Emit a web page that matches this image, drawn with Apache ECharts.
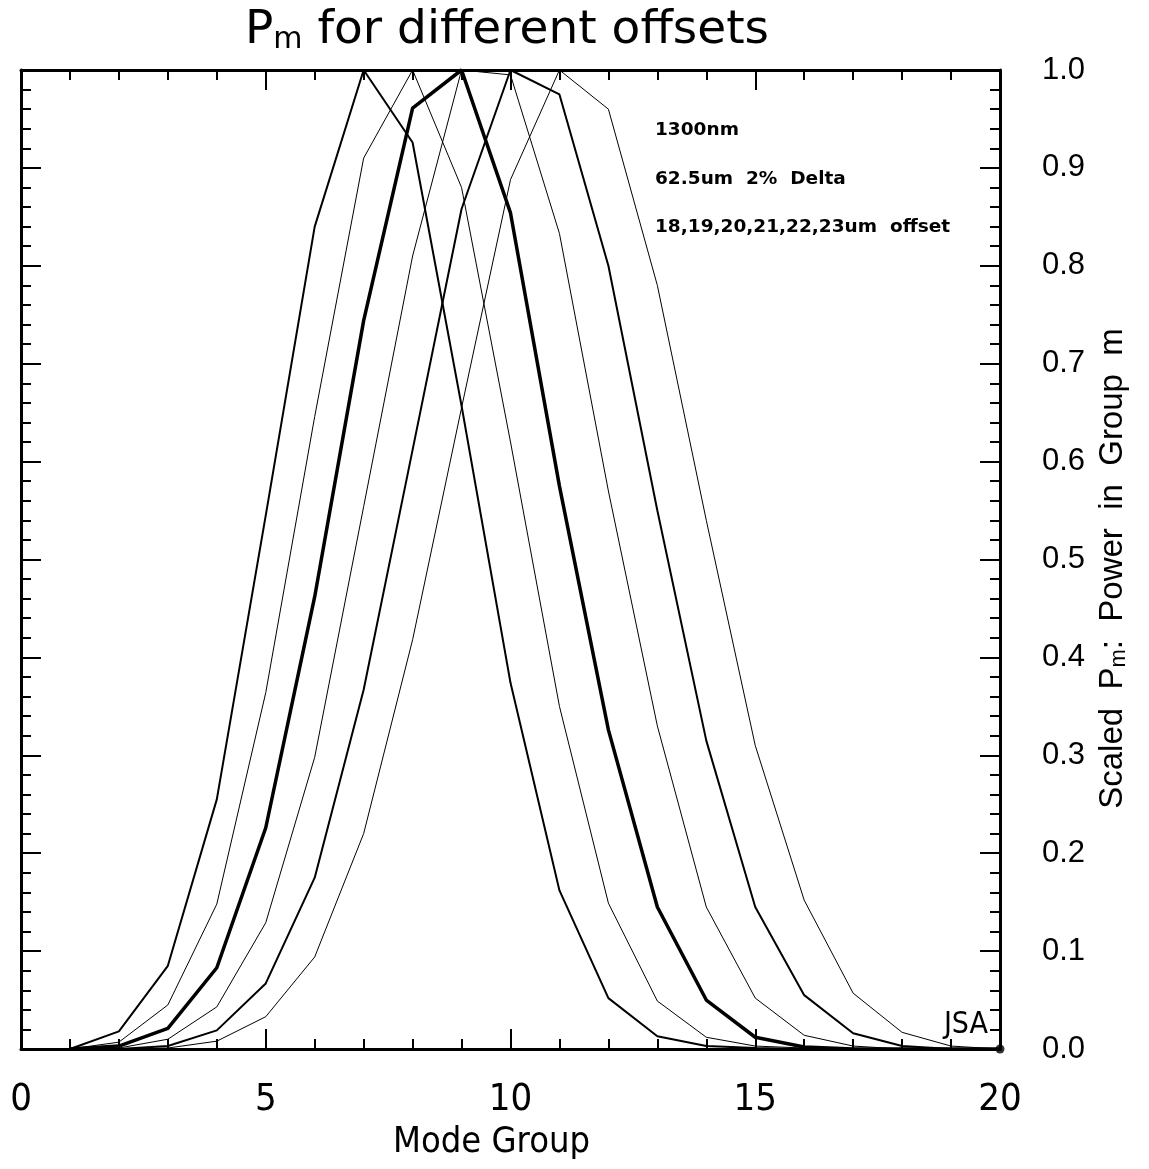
<!DOCTYPE html>
<html>
<head>
<meta charset="utf-8">
<title>Pm for different offsets</title>
<script src="https://cdn.jsdelivr.net/npm/echarts@6/dist/echarts.min.js"></script>
<style>
  html, body { margin: 0; padding: 0; background: #fff; }
  #main { width: 1149px; height: 1169px; }
</style>
</head>
<body>
<div id="main"></div>
<script>
// mode group numbers (x)
var modeGroups = [1, 2, 3, 4, 5, 6, 7, 8, 9, 10, 11, 12, 13, 14, 15, 16, 17, 18, 19, 20];

// scaled Pm for each launch offset
var off18 = [0, 0.018, 0.085, 0.255, 0.545, 0.84, 1.0, 0.926, 0.657, 0.374, 0.162, 0.052, 0.013, 0.003, 0.001, 0, 0, 0, 0, 0];
var off19 = [0, 0.007, 0.045, 0.148, 0.364, 0.646, 0.91, 1.0, 0.88, 0.62, 0.35, 0.149, 0.049, 0.012, 0.003, 0.001, 0, 0, 0, 0];
var off20 = [0, 0.003, 0.021, 0.083, 0.226, 0.462, 0.744, 0.961, 1.0, 0.854, 0.575, 0.326, 0.145, 0.05, 0.012, 0.002, 0, 0, 0, 0];
var off21 = [0, 0.001, 0.01, 0.043, 0.129, 0.298, 0.554, 0.81, 1.0, 0.995, 0.833, 0.57, 0.33, 0.145, 0.052, 0.014, 0.003, 0, 0, 0];
var off22 = [0, 0, 0.003, 0.019, 0.067, 0.175, 0.367, 0.612, 0.858, 1.0, 0.975, 0.80, 0.55, 0.315, 0.145, 0.055, 0.016, 0.003, 0, 0];
var off23 = [0, 0, 0.001, 0.008, 0.033, 0.094, 0.22, 0.418, 0.655, 0.888, 1.0, 0.96, 0.78, 0.54, 0.31, 0.152, 0.057, 0.017, 0.003, 0];

// line width per offset (thin / medium / thick as in the plot)
var offsets = [
    { name: '18um', data: off18, width: 2 },
    { name: '19um', data: off19, width: 1 },
    { name: '20um', data: off20, width: 3.5 },
    { name: '21um', data: off21, width: 1 },
    { name: '22um', data: off22, width: 2 },
    { name: '23um', data: off23, width: 1 }
];

var notes = ['1300nm', '62.5um  2%  Delta', '18,19,20,21,22,23um  offset'];

var narrow = '"Liberation Sans Narrow", "DejaVu Sans Condensed", sans-serif';
var sans = '"Liberation Sans", Arial, sans-serif';
var dejavu = '"DejaVu Sans", sans-serif';

var myChart = echarts.init(document.getElementById('main'));

function pairs(arr) {
    return arr.map(function (v, i) { return [modeGroups[i], v]; });
}

var axisLine = { show: true, onZero: false, lineStyle: { color: '#000', width: 3 } };
var tick = { show: true, inside: true, length: 20, lineStyle: { color: '#000', width: 2 } };
var minor = { show: true, splitNumber: 5, length: 10, lineStyle: { color: '#000', width: 2 } };

var series = offsets.map(function (o) {
    return {
        name: o.name,
        type: 'line',
        data: pairs(o.data),
        symbol: 'none',
        clip: false,
        lineStyle: { color: '#000', width: o.width },
        z: 3
    };
});
// end marker dot in the corner
series.push({
    type: 'scatter',
    data: [[20, 0]],
    symbolSize: 9,
    itemStyle: { color: '#000' },
    clip: false,
    z: 5
});

myChart.setOption({
    animation: false,
    backgroundColor: '#fff',
    grid: { left: 21, top: 70, width: 979, height: 979, outerBoundsMode: 'none', containLabel: false },
    xAxis: [
        {
            type: 'value', position: 'bottom', min: 0, max: 20, interval: 5,
            axisLine: axisLine, axisTick: tick, minorTick: minor, splitLine: { show: false },
            axisLabel: { color: '#000', fontSize: 38, fontFamily: narrow, margin: 32 },
            name: 'Mode Group', nameLocation: 'middle', nameGap: 76,
            nameTextStyle: { color: '#000', fontSize: 36, fontFamily: narrow, padding: [0, 38, 0, 0] }
        },
        {
            type: 'value', position: 'top', min: 0, max: 20, interval: 5,
            axisLine: axisLine, axisTick: tick, minorTick: minor, splitLine: { show: false },
            axisLabel: { show: false }
        }
    ],
    yAxis: [
        {
            type: 'value', position: 'right', min: 0, max: 1, interval: 0.1,
            axisLine: axisLine, axisTick: tick, minorTick: minor, splitLine: { show: false },
            axisLabel: {
                color: '#000', fontSize: 31, fontFamily: sans, margin: 42,
                formatter: function (v) { return v.toFixed(1); }
            },
            name: 'Scaled  P{s|m}:  Power  in  Group  m',
            nameLocation: 'middle', nameRotate: 90, nameGap: 95,
            nameTextStyle: {
                color: '#000', fontSize: 33, fontFamily: sans, padding: [0, 18, 0, 0],
                rich: { s: { fontSize: 22, fontFamily: sans, color: '#000', padding: [12, 0, 0, 0], verticalAlign: 'bottom' } }
            }
        },
        {
            type: 'value', position: 'left', min: 0, max: 1, interval: 0.1,
            axisLine: axisLine, axisTick: tick, minorTick: minor, splitLine: { show: false },
            axisLabel: { show: false }
        }
    ],
    graphic: [
        {
            type: 'text', left: 245, top: 7,
            style: {
                text: '{a|P}{s|m}{a| for different offsets}',
                rich: {
                    a: { fontSize: 47, fontFamily: dejavu, fill: '#000', lineHeight: 50 },
                    s: { fontSize: 30, fontFamily: dejavu, fill: '#000', padding: [18, 0, 0, 0], verticalAlign: 'bottom' }
                }
            }
        },
        {
            type: 'text', x: 655, y: 130,
            style: { text: notes[0], fontSize: 18.5, fontWeight: 'bold', fontFamily: dejavu, fill: '#000', verticalAlign: 'middle' }
        },
        {
            type: 'text', x: 655, y: 179,
            style: { text: notes[1], fontSize: 18.5, fontWeight: 'bold', fontFamily: dejavu, fill: '#000', verticalAlign: 'middle' }
        },
        {
            type: 'text', x: 655, y: 227,
            style: { text: notes[2], fontSize: 18.5, fontWeight: 'bold', fontFamily: dejavu, fill: '#000', verticalAlign: 'middle' }
        },
        {
            type: 'text', x: 988, y: 1025,
            style: { text: 'JSA', fontSize: 30, fontFamily: narrow, fill: '#000', align: 'right', verticalAlign: 'middle' }
        }
    ],
    series: series
});
</script>
</body>
</html>
